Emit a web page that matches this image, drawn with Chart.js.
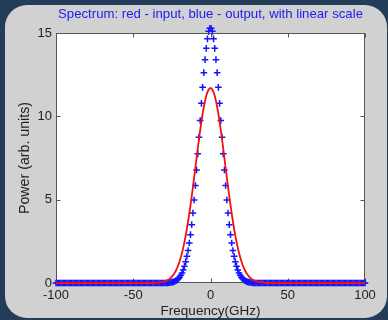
<!DOCTYPE html>
<html><head><meta charset="utf-8">
<script src="https://cdn.jsdelivr.net/npm/chart.js@4.4.1/dist/chart.umd.min.js"></script>
<style>html,body{margin:0;padding:0;background:#233c5a;}canvas{display:block;}</style>
</head><body>
<canvas id="c" width="388" height="320"></canvas>
<script>
// Frequency grid (GHz), 256 samples from -100 to 100
const freq = [
-100,-99.22,-98.43,-97.65,-96.86,-96.08,-95.29,-94.51,-93.73,-92.94,-92.16,-91.37,-90.59,-89.8,-89.02,-88.24,-87.45,-86.67,-85.88,-85.1,-84.31,-83.53,-82.75,-81.96,-81.18,-80.39,-79.61,-78.82,-78.04,-77.25,-76.47,-75.69,-74.9,-74.12,-73.33,-72.55,-71.76,-70.98,-70.2,-69.41,-68.63,-67.84,-67.06,-66.27,-65.49,-64.71,-63.92,-63.14,-62.35,-61.57,-60.78,
-60,-59.22,-58.43,-57.65,-56.86,-56.08,-55.29,-54.51,-53.73,-52.94,-52.16,-51.37,-50.59,-49.8,-49.02,-48.24,-47.45,-46.67,-45.88,-45.1,-44.31,-43.53,-42.75,-41.96,-41.18,-40.39,-39.61,-38.82,-38.04,-37.25,-36.47,-35.69,-34.9,-34.12,-33.33,-32.55,-31.76,-30.98,-30.2,-29.41,-28.63,-27.84,-27.06,-26.27,-25.49,-24.71,-23.92,-23.14,-22.35,-21.57,-20.78,
-20,-19.22,-18.43,-17.65,-16.86,-16.08,-15.29,-14.51,-13.73,-12.94,-12.16,-11.37,-10.59,-9.8,-9.02,-8.24,-7.45,-6.67,-5.88,-5.1,-4.31,-3.53,-2.75,-1.96,-1.18,-0.39,0.39,1.18,1.96,2.75,3.53,4.31,5.1,5.88,6.67,7.45,8.24,9.02,9.8,10.59,11.37,12.16,12.94,13.73,14.51,15.29,16.08,16.86,17.65,18.43,19.22,
20,20.78,21.57,22.35,23.14,23.92,24.71,25.49,26.27,27.06,27.84,28.63,29.41,30.2,30.98,31.76,32.55,33.33,34.12,34.9,35.69,36.47,37.25,38.04,38.82,39.61,40.39,41.18,41.96,42.75,43.53,44.31,45.1,45.88,46.67,47.45,48.24,49.02,49.8,50.59,51.37,52.16,52.94,53.73,54.51,55.29,56.08,56.86,57.65,58.43,59.22,
60,60.78,61.57,62.35,63.14,63.92,64.71,65.49,66.27,67.06,67.84,68.63,69.41,70.2,70.98,71.76,72.55,73.33,74.12,74.9,75.69,76.47,77.25,78.04,78.82,79.61,80.39,81.18,81.96,82.75,83.53,84.31,85.1,85.88,86.67,87.45,88.24,89.02,89.8,90.59,91.37,92.16,92.94,93.73,94.51,95.29,96.08,96.86,97.65,98.43,99.22,
100
];

// Red: input spectrum (line)
const inputPower = [
0,0,0,0,0,0,0,0,0,0,
0,0,0,0,0,0,0,0,0,0,
0,0,0,0,0,0,0,0,0,0,
0,0,0,0,0,0,0,0,0,0,
0,0,0,0,0,0,0,0,0,0,
0,0,0,0,0,0,0,0,0,0,
0,0,0,0,0,0,0,0,0,0,
0,0,0,0,0,0,0,0,0,0,
0,0,
0.01,0.015,0.02,0.03,0.04,0.05,0.06,0.08,0.1,0.13,0.17,0.21,0.26,0.33,0.41,0.51,0.62,0.75,0.91,1.09,1.3,1.54,1.81,2.12,2.46,2.83,3.24,3.69,4.16,4.67,5.2,5.75,6.33,6.9,7.49,8.07,8.63,9.17,9.68,10.15,10.56,10.93,11.23,11.46,11.61,11.69,
11.69,11.61,11.46,11.23,10.93,10.56,10.15,9.68,9.17,8.63,8.07,7.49,6.9,6.33,5.75,5.2,4.67,4.16,3.69,3.24,2.83,2.46,2.12,1.81,1.54,1.3,1.09,0.91,0.75,0.62,0.51,0.41,0.33,0.26,0.21,0.17,0.13,0.1,0.08,0.06,0.05,0.04,0.03,0.02,0.015,0.01,
0,0,
0,0,0,0,0,0,0,0,0,0,
0,0,0,0,0,0,0,0,0,0,
0,0,0,0,0,0,0,0,0,0,
0,0,0,0,0,0,0,0,0,0,
0,0,0,0,0,0,0,0,0,0,
0,0,0,0,0,0,0,0,0,0,
0,0,0,0,0,0,0,0,0,0,
0,0,0,0,0,0,0,0,0,0
];

// Blue: output spectrum (+ markers)
const outputPower = [
0,0,0,0,0,0,0,0,0,0,
0,0,0,0,0,0,0,0,0,0,
0,0,0,0,0,0,0,0,0,0,
0,0,0,0,0,0,0,0,0,0,
0,0,0,0,0,0,0,0,0,0,
0,0,0,0,0,0,0,0,0,0,
0,0,0,0,0,0,0,0,0,0,
0,0,0,0,0,0,0,0,0,0,
0,0,0,0,0,0,0,0,0,0,
0,0,
0.01,0.015,0.025,0.035,0.05,0.07,0.1,0.14,0.19,0.26,0.35,0.46,0.6,0.78,1.0,1.28,1.6,1.95,2.4,2.9,3.5,4.2,4.98,5.85,6.78,7.75,8.75,9.75,10.78,11.74,12.62,13.4,14.08,14.65,15.1,15.28,
15.28,15.1,14.65,14.08,13.4,12.62,11.74,10.78,9.75,8.75,7.75,6.78,5.85,4.98,4.2,3.5,2.9,2.4,1.95,1.6,1.28,1.0,0.78,0.6,0.46,0.35,0.26,0.19,0.14,0.1,0.07,0.05,0.035,0.025,0.015,0.01,
0,0,
0,0,0,0,0,0,0,0,0,0,
0,0,0,0,0,0,0,0,0,0,
0,0,0,0,0,0,0,0,0,0,
0,0,0,0,0,0,0,0,0,0,
0,0,0,0,0,0,0,0,0,0,
0,0,0,0,0,0,0,0,0,0,
0,0,0,0,0,0,0,0,0,0,
0,0,0,0,0,0,0,0,0,0,
0,0,0,0,0,0,0,0,0,0
];

const xTicks = [-100, -50, 0, 50, 100];
const yTicks = [0, 5, 10, 15];
const titleText = 'Spectrum: red - input, blue - output, with linear scale';
const xLabel = 'Frequency(GHz)';
const yLabel = 'Power (arb. units)';

if (freq.length !== inputPower.length || freq.length !== outputPower.length) {
  throw new Error('length mismatch ' + freq.length + ' ' + inputPower.length + ' ' + outputPower.length);
}

Chart.defaults.font.family = "'Liberation Sans', Arial, sans-serif";

function roundRectPath(ctx, x, y, w, h, r) {
  ctx.beginPath();
  ctx.moveTo(x + r, y);
  ctx.lineTo(x + w - r, y);
  ctx.arcTo(x + w, y, x + w, y + r, r);
  ctx.lineTo(x + w, y + h - r);
  ctx.arcTo(x + w, y + h, x + w - r, y + h, r);
  ctx.lineTo(x + r, y + h);
  ctx.arcTo(x, y + h, x, y + h - r, r);
  ctx.lineTo(x, y + r);
  ctx.arcTo(x, y, x + r, y, r);
  ctx.closePath();
}

const framePlugin = {
  id: 'frame',
  beforeDraw(chart) {
    const ctx = chart.ctx, a = chart.chartArea;
    ctx.save();
    ctx.fillStyle = '#233c5a';
    ctx.fillRect(0, 0, chart.width, chart.height);
    ctx.fillStyle = '#d1d1d1';
    roundRectPath(ctx, 5, 5, 382, 313, 22);
    ctx.fill();
    ctx.fillStyle = '#ffffff';
    ctx.fillRect(a.left, a.top, a.right - a.left, a.bottom - a.top);
    ctx.restore();
  },
  beforeDatasetsDraw(chart) {
    const ctx = chart.ctx, a = chart.chartArea, xs = chart.scales.x, ys = chart.scales.y;
    ctx.save();
    ctx.strokeStyle = '#555555';
    ctx.lineWidth = 1;
    const L = Math.round(a.left) + 0.5, R = Math.round(a.right) - 0.5;
    const T = Math.round(a.top) + 0.5, B = Math.round(a.bottom) - 0.5;
    ctx.strokeRect(L, T, R - L, B - T);
    ctx.beginPath();
    xTicks.forEach(v => {
      const px = Math.round(xs.getPixelForValue(v)) + 0.5;
      ctx.moveTo(px, B); ctx.lineTo(px, B - 4);
      ctx.moveTo(px, T); ctx.lineTo(px, T + 4);
    });
    yTicks.forEach(v => {
      const py = Math.round(ys.getPixelForValue(v)) + 0.5;
      ctx.moveTo(L, py); ctx.lineTo(L + 4, py);
      ctx.moveTo(R, py); ctx.lineTo(R - 4, py);
    });
    ctx.stroke();
    ctx.restore();
  }
};

new Chart(document.getElementById('c'), {
  type: 'line',
  data: {
    datasets: [
      {
        label: 'input',
        data: freq.map((f, i) => ({ x: f, y: inputPower[i] })),
        borderColor: '#f01010',
        borderWidth: 1.8,
        pointRadius: 0,
        fill: false,
        tension: 0,
        clip: false,
        order: 0
      },
      {
        label: 'output',
        data: freq.map((f, i) => ({ x: f, y: outputPower[i] })),
        showLine: false,
        pointStyle: 'cross',
        pointRadius: 3.3,
        pointBorderWidth: 1.5,
        pointBorderColor: '#1414ff',
        pointBackgroundColor: '#1414ff',
        clip: false,
        order: 1
      }
    ]
  },
  options: {
    responsive: false,
    animation: false,
    devicePixelRatio: 1,
    layout: { padding: { left: 0, right: 23, top: 0, bottom: 0 } },
    plugins: { legend: { display: false }, tooltip: { enabled: false }, title: { display: false } },
    scales: {
      x: {
        type: 'linear', position: 'bottom', min: -100, max: 100,
        afterBuildTicks(s) { s.ticks = xTicks.map(v => ({ value: v })); },
        ticks: { color: '#222', font: { size: 13 }, padding: 5, maxRotation: 0, autoSkip: false },
        grid: { display: false, drawTicks: false },
        border: { display: false },
        title: { display: true, text: xLabel, color: '#222', font: { size: 13.5 }, padding: { top: 0, bottom: 1 } },
        afterFit(s) { s.height = 37; }
      },
      top: {
        type: 'linear', position: 'top', min: -100, max: 100,
        ticks: { display: false },
        grid: { display: false, drawTicks: false },
        border: { display: false },
        title: { display: true, text: titleText, color: '#2020f0', font: { size: 13.2 }, padding: { top: 6, bottom: 0 } },
        afterFit(s) { s.height = 33; }
      },
      y: {
        type: 'linear', position: 'left', min: 0, max: 15,
        afterBuildTicks(s) { s.ticks = yTicks.map(v => ({ value: v })); },
        ticks: { color: '#222', font: { size: 13 }, padding: 4 },
        grid: { display: false, drawTicks: false },
        border: { display: false },
        title: { display: true, text: yLabel, color: '#222', font: { size: 14.2 }, padding: { top: 17, bottom: 0 } },
        afterFit(s) { s.width = 56; }
      }
    }
  },
  plugins: [framePlugin]
});
</script>
</body></html>
